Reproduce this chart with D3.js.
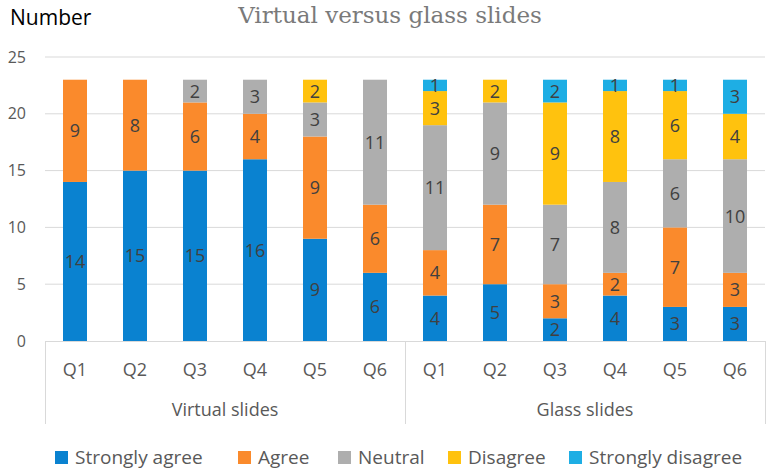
<!DOCTYPE html>
<html>
<head>
<meta charset="utf-8">
<script src="https://cdn.jsdelivr.net/npm/d3@7"></script>
<style>
  body { margin: 0; background: #fff; }
  svg { display: block; }
</style>
</head>
<body>
<svg id="chart"></svg>
<script>
// data
var groups = ["Virtual slides", "Glass slides"];
var questions = ["Q1", "Q2", "Q3", "Q4", "Q5", "Q6"];
var keys = ["Strongly agree", "Agree", "Neutral", "Disagree", "Strongly disagree"];
var colors = ["#0a82d0", "#fa8a2c", "#aeaeae", "#ffc20e", "#1eaee4"];

var stronglyAgree    = [14, 15, 15, 16, 9, 6,   4, 5, 2, 4, 3, 3];
var agree            = [9, 8, 6, 4, 9, 6,       4, 7, 3, 2, 7, 3];
var neutral          = [0, 0, 2, 3, 3, 11,      11, 9, 7, 8, 6, 10];
var disagree         = [0, 0, 0, 0, 2, 0,       3, 2, 9, 8, 6, 4];
var stronglyDisagree = [0, 0, 0, 0, 0, 0,       1, 0, 2, 1, 1, 3];
var yTicks = [0, 5, 10, 15, 20, 25];

var screen = {width: 770, height: 470};
var margins = {top: 57, bottom: 129, left: 45, right: 5};
var graph = {
    width: screen.width - margins.left - margins.right,
    height: screen.height - margins.top - margins.bottom
};

var rows = [];
groups.forEach(function(g, gi) {
    questions.forEach(function(q, qi) {
        var i = gi * questions.length + qi;
        rows.push({
            id: gi + "-" + q, group: g, q: q,
            "Strongly agree": stronglyAgree[i],
            "Agree": agree[i],
            "Neutral": neutral[i],
            "Disagree": disagree[i],
            "Strongly disagree": stronglyDisagree[i]
        });
    });
});

var xScale = d3.scaleBand()
    .domain(rows.map(function(d) { return d.id; }))
    .range([0, graph.width])
    .paddingInner(0.6)
    .paddingOuter(0.3);

var yScale = d3.scaleLinear()
    .domain([0, 25])
    .range([graph.height, 0]);

var series = d3.stack().keys(keys)(rows);

var svg = d3.select("#chart")
    .attr("width", screen.width)
    .attr("height", screen.height);

var g = svg.append("g")
    .attr("transform", "translate(" + margins.left + "," + margins.top + ")");

var font = "'Open Sans', sans-serif";

// gridlines
g.append("g")
    .selectAll("line")
    .data(yTicks.slice(1))
    .enter()
    .append("line")
    .attr("x1", 0)
    .attr("x2", graph.width)
    .attr("y1", function(d) { return yScale(d); })
    .attr("y2", function(d) { return yScale(d); })
    .attr("stroke", "#d9d9d9")
    .attr("stroke-width", 1);

// y axis labels
var yAxis = d3.axisLeft(yScale).tickValues(yTicks).tickSize(0).tickPadding(19);
var ya = g.append("g").call(yAxis);
ya.select(".domain").remove();
ya.selectAll("text")
    .attr("fill", "#595959")
    .style("font-family", font)
    .style("font-size", "16px");

// bars
var layers = g.selectAll("g.layer")
    .data(series)
    .enter()
    .append("g")
    .attr("class", "layer")
    .attr("fill", function(d, i) { return colors[i]; });

layers.selectAll("rect")
    .data(function(d) { return d; })
    .enter()
    .append("rect")
    .attr("x", function(d) { return xScale(d.data.id); })
    .attr("width", xScale.bandwidth())
    .attr("y", function(d) { return yScale(d[1]); })
    .attr("height", function(d) { return yScale(d[0]) - yScale(d[1]); });

// data labels
layers.selectAll("text")
    .data(function(d) { return d.filter(function(s) { return s[1] - s[0] > 0; }); })
    .enter()
    .append("text")
    .attr("x", function(d) { return xScale(d.data.id) + xScale.bandwidth() / 2; })
    .attr("y", function(d) { return yScale((d[0] + d[1]) / 2); })
    .attr("dy", "0.36em")
    .attr("text-anchor", "middle")
    .attr("fill", "#404040")
    .style("font-family", font)
    .style("font-size", "18px")
    .text(function(d) { return d[1] - d[0]; });

// category axis (two levels)
var axisColor = "#d9d9d9";
g.append("line")
    .attr("x1", 0).attr("x2", graph.width)
    .attr("y1", graph.height + 0.5).attr("y2", graph.height + 0.5)
    .attr("stroke", axisColor);

var step = xScale.step();
var divs = [0, questions.length * step, rows.length * step];
g.selectAll("line.div")
    .data(divs)
    .enter()
    .append("line")
    .attr("class", "div")
    .attr("x1", function(d) { return Math.round(d) + 0.5; })
    .attr("x2", function(d) { return Math.round(d) + 0.5; })
    .attr("y1", graph.height)
    .attr("y2", graph.height + 83)
    .attr("stroke", axisColor);

g.selectAll("text.q")
    .data(rows)
    .enter()
    .append("text")
    .attr("class", "q")
    .attr("x", function(d) { return xScale(d.id) + xScale.bandwidth() / 2; })
    .attr("y", graph.height + 35)
    .attr("text-anchor", "middle")
    .attr("fill", "#595959")
    .style("font-family", font)
    .style("font-size", "18px")
    .text(function(d) { return d.q; });

g.selectAll("text.grp")
    .data(groups)
    .enter()
    .append("text")
    .attr("class", "grp")
    .attr("x", function(d, i) { return (i + 0.5) * questions.length * step; })
    .attr("y", graph.height + 75)
    .attr("text-anchor", "middle")
    .attr("fill", "#595959")
    .style("font-family", font)
    .style("font-size", "18px")
    .text(function(d) { return d; });

// title and y label
svg.append("text")
    .attr("x", 390)
    .attr("y", 23)
    .attr("text-anchor", "middle")
    .attr("fill", "#7a7a7a")
    .style("font-family", "'DejaVu Serif', serif")
    .style("font-size", "23px")
    .text("Virtual versus glass slides");

svg.append("text")
    .attr("x", 10)
    .attr("y", 25)
    .attr("fill", "#000")
    .style("font-family", font)
    .style("font-size", "21px")
    .text("Number");

// legend
var legendX = [55, 238, 338, 448, 569];
var legend = svg.append("g")
    .selectAll("g")
    .data(keys)
    .enter()
    .append("g")
    .attr("transform", function(d, i) { return "translate(" + legendX[i] + ",451)"; });

legend.append("rect")
    .attr("width", 13)
    .attr("height", 13)
    .attr("fill", function(d, i) { return colors[i]; });

legend.append("text")
    .attr("x", 20)
    .attr("y", 6)
    .attr("dy", "0.36em")
    .attr("fill", "#595959")
    .style("font-family", font)
    .style("font-size", "19px")
    .text(function(d) { return d; });
</script>
</body>
</html>
